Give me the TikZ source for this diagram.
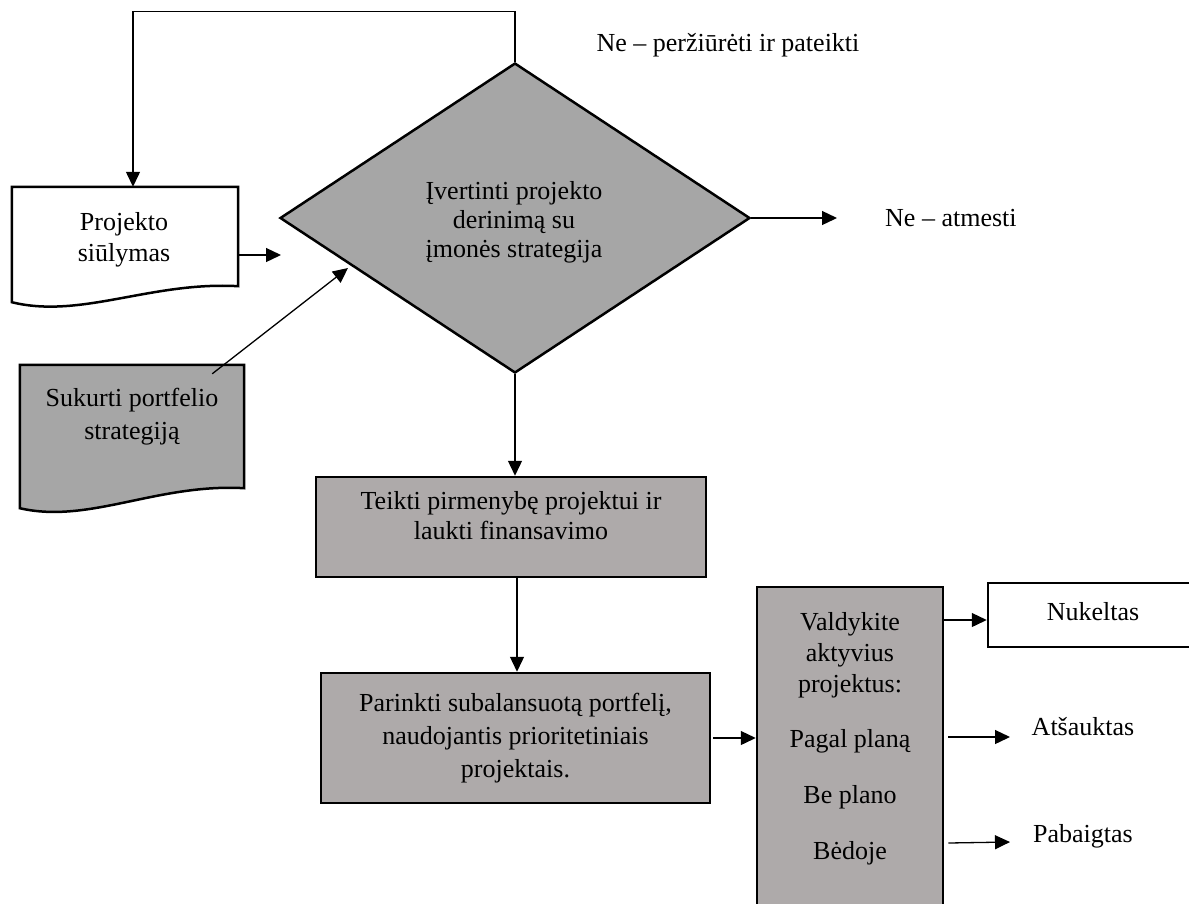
\documentclass[tikz,border=0pt]{standalone}
\usepackage{fontspec}
\setmainfont{Liberation Serif}
\usetikzlibrary{arrows.meta,shapes.geometric,calc}
\definecolor{diagray}{HTML}{A6A6A6}
\definecolor{boxgray}{HTML}{AEAAAA}

\begin{document}
\begin{tikzpicture}[x=1pt,y=-1pt,
  every node/.style={font=\fontsize{26}{30}\selectfont, inner sep=0pt},
  conn/.style={line width=1.3pt, -{Triangle[length=15pt,width=14pt]}},
  procbox/.style={draw, line width=2.5pt, fill=boxgray, rectangle, align=center},
  docline/.style={draw, line width=2.5pt, line join=miter},
  label/.style={align=center},
]
\useasboundingbox (0,0) rectangle (1189,903);
\clip (0,0) rectangle (1189,903);

% --- document shape: project proposal
\node[minimum width=226pt, minimum height=99pt] (prop) at (125,236.5) {};
\path[docline, fill=white] (prop.north west) -- (prop.north east) -- (prop.south east)
  .. controls ($(prop.south east)+(-87,-5)$) and ($(prop.south west)+(69,33)$) ..
  ($(prop.south west)+(0,16)$) -- cycle;
\node[label, font=\fontsize{26}{31}\selectfont] (proptext) at (124,240) {Projekto\\siūlymas};

% --- document shape: portfolio strategy
\node[minimum width=224pt, minimum height=123pt] (strat) at (132,426.5) {};
\path[docline, fill=diagray] (strat.north west) -- (strat.north east) -- (strat.south east)
  .. controls ($(strat.south east)+(-87,-5)$) and ($(strat.south west)+(69,36)$) ..
  ($(strat.south west)+(0,20)$) -- cycle;
\node[label, font=\fontsize{26}{33}\selectfont] (strattext) at (132,417) {Sukurti portfelio\\strategiją};

% --- decision
\node[diamond, draw, line width=2.5pt, fill=diagray, minimum width=470pt,
      minimum height=310pt, inner sep=0pt] (eval) at (515,218) {};
\node[label, font=\fontsize{26}{29}\selectfont] (evaltext) at (514,222)
  {Įvertinti projekto\\derinimą su\\įmonės strategija};

\node (revise) at (728,45) {Ne – peržiūrėti ir pateikti};
\node[anchor=west] (reject) at (885,218) {Ne – atmesti};

% --- process boxes
\node[procbox, minimum width=390pt, minimum height=100pt] (prio) at (511,527) {};
\node[label, font=\fontsize{26}{30}\selectfont] (priotext) at (511,516)
  {Teikti pirmenybę projektui ir\\laukti finansavimo};
\node[procbox, minimum width=389pt, minimum height=130pt,
      font=\fontsize{26}{33}\selectfont] (select) at (515.5,738)
  {Parinkti subalansuotą portfelį,\\naudojantis prioritetiniais\\projektais.};
\node[procbox, minimum width=186pt, minimum height=328pt] (manage) at (850,751) {};
\node[label, font=\fontsize{26}{31}\selectfont] (managehead) at (850,655)
  {Valdykite\\aktyvius\\projektus:};
\node (onplan) at (850,741) {Pagal planą};
\node (offplan) at (850,797) {Be plano};
\node (introuble) at (850,853) {Bėdoje};

% --- outcomes
\node[draw, line width=2.5pt, fill=white, minimum width=210pt, minimum height=64pt,
      text depth=8pt] (deferred) at (1093,615) {Nukeltas};
\node (cancelled) at (1083,727) {Atšauktas};
\node (completed) at (1083,836) {Pabaigtas};

% --- connectors
\draw[conn] (eval.north) -- ++(0,-50) -| ([xshift=8pt]prop.north);
\coordinate (propin) at (281,255);
\draw[conn] (prop.east |- propin) -- (propin);
\coordinate (stratin) at (348,268);
\draw[conn] ($(strat.north east)+(-32,9)$) -- (stratin);
\draw[conn] (eval.east) -- ([xshift=-48pt]reject.west);
\draw[conn] (eval.south) -- (eval.south |- prio.north);
\coordinate (prioout) at ($(prio.south)+(6,0)$);
\draw[conn] (prioout) -- (prioout |- select.north);
\draw[conn] ($(select.east)+(2,0)$) -- (select.east -| manage.west);
\coordinate (deferin) at ([yshift=-5pt]deferred.west);
\draw[conn] (manage.east |- deferin) -- (deferin);
\coordinate (cancelin) at (1010,737);
\draw[conn] ($(manage.east |- cancelin)+(4,0)$) -- (cancelin);
\coordinate (completein) at (1010,842);
\draw[conn] ($(manage.east |- completein)+(4,1)$) -- (completein);
\end{tikzpicture}
\end{document}
